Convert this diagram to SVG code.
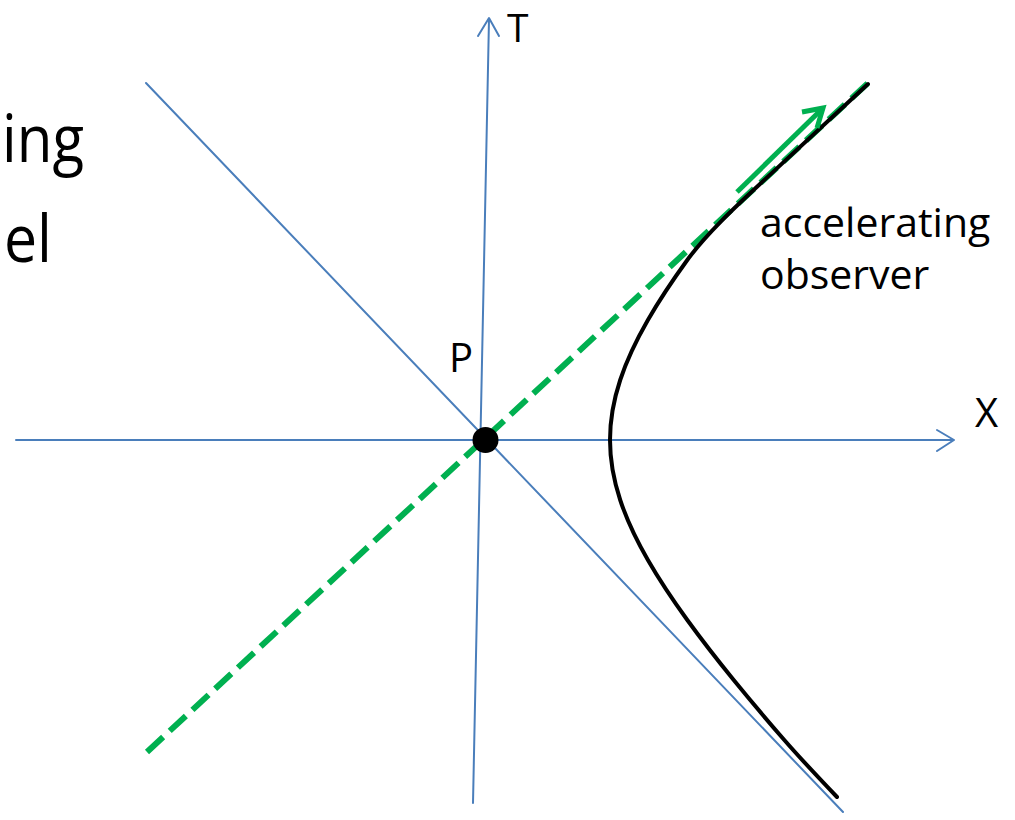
<svg xmlns="http://www.w3.org/2000/svg" width="1015" height="820" viewBox="0 0 1015 820">
<style>
.ax{stroke:#4A7EBB;stroke-width:2;fill:none;stroke-linecap:round;stroke-linejoin:round}
.lbl{font-family:"Open Sans","Liberation Sans",sans-serif;fill:#000}
</style>
<rect width="1015" height="820" fill="#fff"/>
<g id="title-fragments">
<text class="lbl" x="2" y="162" font-size="66" textLength="82" lengthAdjust="spacingAndGlyphs">ing</text>
<text class="lbl" x="4" y="262" font-size="66" textLength="48" lengthAdjust="spacingAndGlyphs">el</text>
</g>
<g id="connectors">
<line id="axis-T" class="ax" x1="473" y1="803" x2="489" y2="19"/>
<polyline class="ax" points="478,36 489,18 499,36"/>
<line id="axis-X" class="ax" x1="16" y1="440" x2="953" y2="440"/>
<polyline class="ax" points="937,430 954,440 937,451"/>
<line id="lightcone" class="ax" x1="146" y1="83" x2="843" y2="812"/>
<line id="horizon" x1="147" y1="752" x2="868" y2="83" stroke="#00B050" stroke-width="6" stroke-dasharray="22 9"/>
<path id="worldline" fill="none" stroke="#000" stroke-width="4" stroke-linecap="round" stroke-linejoin="round" d="M868,84 L760,184 C734.3,207.8 705.4,235 687.3,260 C672.8,280 659.4,300 647.9,320 C636.4,340 626.8,360 620.2,380 C613.6,400 610,420 610,440 C610,460 613.6,480 620.2,500 C626.8,520 636.4,540 647.9,560 C659.4,580 672.8,600 687.3,620 C701.8,640 717.4,660 733.7,680 C750,700 766.9,720 784.3,740 C800.8,759 818.9,778 837,797"/>
<g id="velocity-arrow" stroke="#00B050" stroke-width="5" fill="none" stroke-linejoin="miter">
<line x1="737" y1="192" x2="822" y2="109"/>
<polyline points="802,112 823,108 817,128"/>
</g>
</g>
<g id="node-P">
<circle cx="485.5" cy="440" r="13" fill="#000"/>
<text class="lbl" x="449" y="372" font-size="40">P</text>
</g>
<g id="label-T"><text class="lbl" x="507" y="42" font-size="39">T</text></g>
<g id="label-X"><text class="lbl" x="975" y="427" font-size="40">X</text></g>
<g id="label-observer">
<text class="lbl" x="760" y="237" font-size="41">accelerating</text>
<text class="lbl" x="760" y="289" font-size="41">observer</text>
</g>
</svg>
